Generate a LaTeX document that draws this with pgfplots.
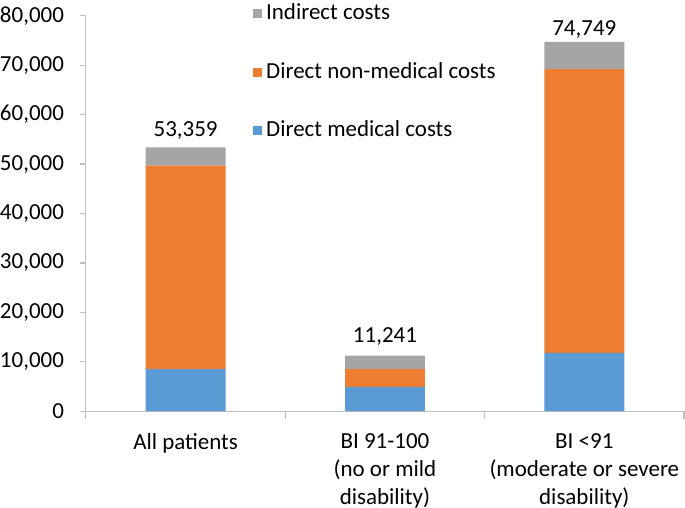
\documentclass[border=0pt]{standalone}
\usepackage{pgfplots}
\usepackage{pgfplotstable}
\pgfplotsset{compat=1.18}
\usepackage{fontspec}
\setmainfont{Carlito}
\definecolor{cblue}{HTML}{5B9BD5}
\definecolor{corange}{HTML}{ED7D31}
\definecolor{cgray}{HTML}{A5A5A5}
\definecolor{axgray}{HTML}{BFBFBF}
\pgfplotstableread{
x medical nonmedical indirect label
0 8500 41200 3659 53,359
1 4900 3600 2741 11,241
2 11800 57400 5549 74,749
}\datatable
\begin{document}
\fontsize{11.5}{14}\selectfont
\begin{tikzpicture}
\begin{axis}[
  scale only axis,
  width=299.5pt, height=198pt,
  ybar stacked, bar width=40pt,
  xmin=-0.5, xmax=2.5, ymin=0, ymax=80000,
  axis x line*=bottom, axis y line*=left,
  axis line style={axgray, line width=0.6pt},
  xtick={0,1,2},
  xticklabels={All patients, {BI 91-100\\(no or mild\\disability)}, {BI <91\\(moderate or severe\\disability)}},
  x tick label style={align=center, font=\fontsize{11.5}{14}\selectfont, inner sep=0pt, yshift=-7.8pt},
  major x tick style={draw=none},
  extra x ticks={-0.5,0.5,1.5,2.5},
  extra x tick labels={},
  extra x tick style={major tick length=4pt, tick style={axgray, line width=0.6pt}, tick align=outside, major x tick style={draw=axgray}},
  ytick={0,10000,...,80000},
  yticklabels={0,{10,000},{20,000},{30,000},{40,000},{50,000},{60,000},{70,000},{80,000}},
  scaled y ticks=false,
  y tick style={axgray, line width=0.6pt},
  tick align=outside, major tick length=3pt,
  yticklabel style={font=\fontsize{11.5}{14}\selectfont, inner sep=0pt, xshift=-7.8pt},
  legend style={at={(axis description cs:0.279,1.041)}, anchor=north west, draw=none, fill=none, inner sep=0pt, row sep=15.5pt, font=\fontsize{11.5}{14}\selectfont, cells={anchor=west}},
  legend image code/.code={\fill[#1] (0pt,-2.25pt) rectangle (4.5pt,2.25pt);},
  reverse legend,
  every node near coord/.append style={anchor=south, inner sep=0pt, yshift=8.5pt, font=\fontsize{11.5}{14}\selectfont, text=black},
]
\addplot[fill=cblue, draw=none] table[x=x, y=medical] {\datatable};
\addlegendentry{Direct medical costs}
\addplot[fill=corange, draw=none] table[x=x, y=nonmedical] {\datatable};
\addlegendentry{Direct non-medical costs}
\addplot[fill=cgray, draw=none, nodes near coords, point meta=explicit symbolic] table[x=x, y=indirect, meta=label] {\datatable};
\addlegendentry{Indirect costs}
\end{axis}
\end{tikzpicture}
\end{document}
